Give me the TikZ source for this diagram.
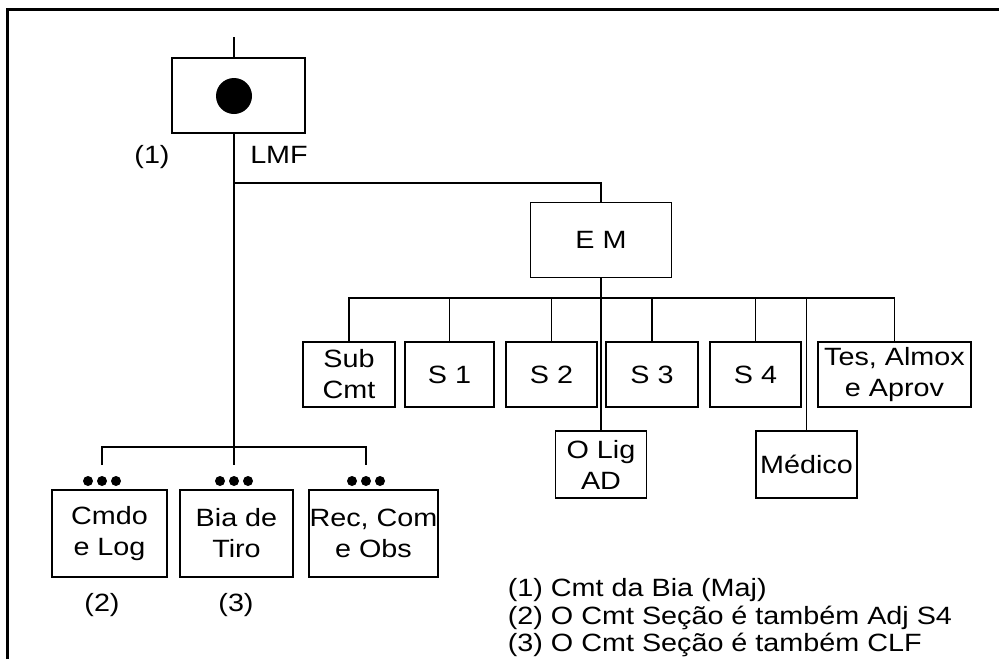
\documentclass[tikz,border=0pt]{standalone}
\usepackage{fontspec}
\setmainfont[FakeStretch=1.15]{Liberation Sans}
\begin{document}
\begin{tikzpicture}[x=1pt,y=-1pt,
  every path/.style={line width=1.7pt},
  box/.style={draw, line width=1.7pt, inner sep=0pt, align=center,
    font=\fontsize{25}{31}\selectfont},
  lbl/.style={inner sep=0pt, font=\fontsize{25}{27.5}\selectfont},
  bigdot/.style={circle, fill=black, draw=none, minimum size=36pt, inner sep=0pt},
  smalldot/.style={circle, fill=black, draw=none, minimum size=10pt, inner sep=0pt}]
\useasboundingbox (0,0) rectangle (999,659);
% frame (top and left only)
\draw[line width=3pt] (7,659) -- (7,9) -- (999,9);

% top element
\node[box, minimum width=133pt, minimum height=75pt] (top) at (238.5,95.5) {};
\node[bigdot] (dot) at (234,96) {};
\coordinate (tick) at (234,37);
\draw (tick) -- (tick |- top.north);
\node[lbl] (n1) at (152,157) {(1)};
\node[lbl] (lmf) at (279,155) {LMF};

% E M
\node[box, minimum width=141pt, minimum height=75pt] (EM) at (601,240) {E M};
\coordinate (j1) at (234,183);
\draw (j1) -| (EM.north);

% staff boxes
\node[box, minimum width=92pt, minimum height=65pt] (sub) at (349,374.5) {Sub\\Cmt};
\node[box, minimum width=89pt, minimum height=65pt] (s1) at (449.5,374.5) {S 1};
\node[box, minimum width=91pt, minimum height=65pt] (s2) at (551.5,374.5) {S 2};
\node[box, minimum width=92pt, minimum height=65pt] (s3) at (652,374.5) {S 3};
\node[box, minimum width=91pt, minimum height=65pt] (s4) at (755.5,374.5) {S 4};
\node[box, minimum width=153pt, minimum height=65pt] (tes) at (894.5,374.5) {Tes, Almox\\e Aprov};
\node[box, minimum width=91pt, minimum height=67pt] (olig) at (601,464.5) {O Lig\\AD};
\node[box, minimum width=101pt, minimum height=67pt] (med) at (806.5,464.5) {Médico};

\coordinate (bus) at (601,298);
\draw (sub.north) |- (bus) -| (tes.north);
\foreach \n in {s1,s2,s3,s4} \draw (\n.north) -- (\n.north |- bus);
\draw (med.north) -- (med.north |- bus);
\draw (EM.south) -- (olig.north);

% sections
\node[box, minimum width=115pt, minimum height=87pt] (cmdo) at (109.5,533.5) {Cmdo\\e Log};
\node[box, minimum width=113pt, minimum height=87pt] (bia) at (236.5,533.5) {Bia de\\Tiro};
\node[box, minimum width=129pt, minimum height=87pt] (rec) at (373.5,533.5) {Rec, Com\\e Obs};

\foreach \cx/\nm in {102/dA,234/dB,366/dC}{
  \foreach \dx in {-14,0,14} \node[smalldot] at (\cx+\dx,481) {};
  \coordinate (\nm) at (\cx,465);
}
\coordinate (bus2) at (234,447);
\draw (dA) |- (bus2) -| (dC);
\draw (dot |- top.south) -- (dB);

\node[lbl] (n2) at (102,605) {(2)};
\node[lbl] (n3) at (236,605) {(3)};

% notes
\node[lbl, anchor=north west, align=left] (notes) at (507,578)
  {(1) Cmt da Bia (Maj)\\(2) O Cmt Seção é também Adj S4\\(3) O Cmt Seção é também CLF};
\end{tikzpicture}
\end{document}
